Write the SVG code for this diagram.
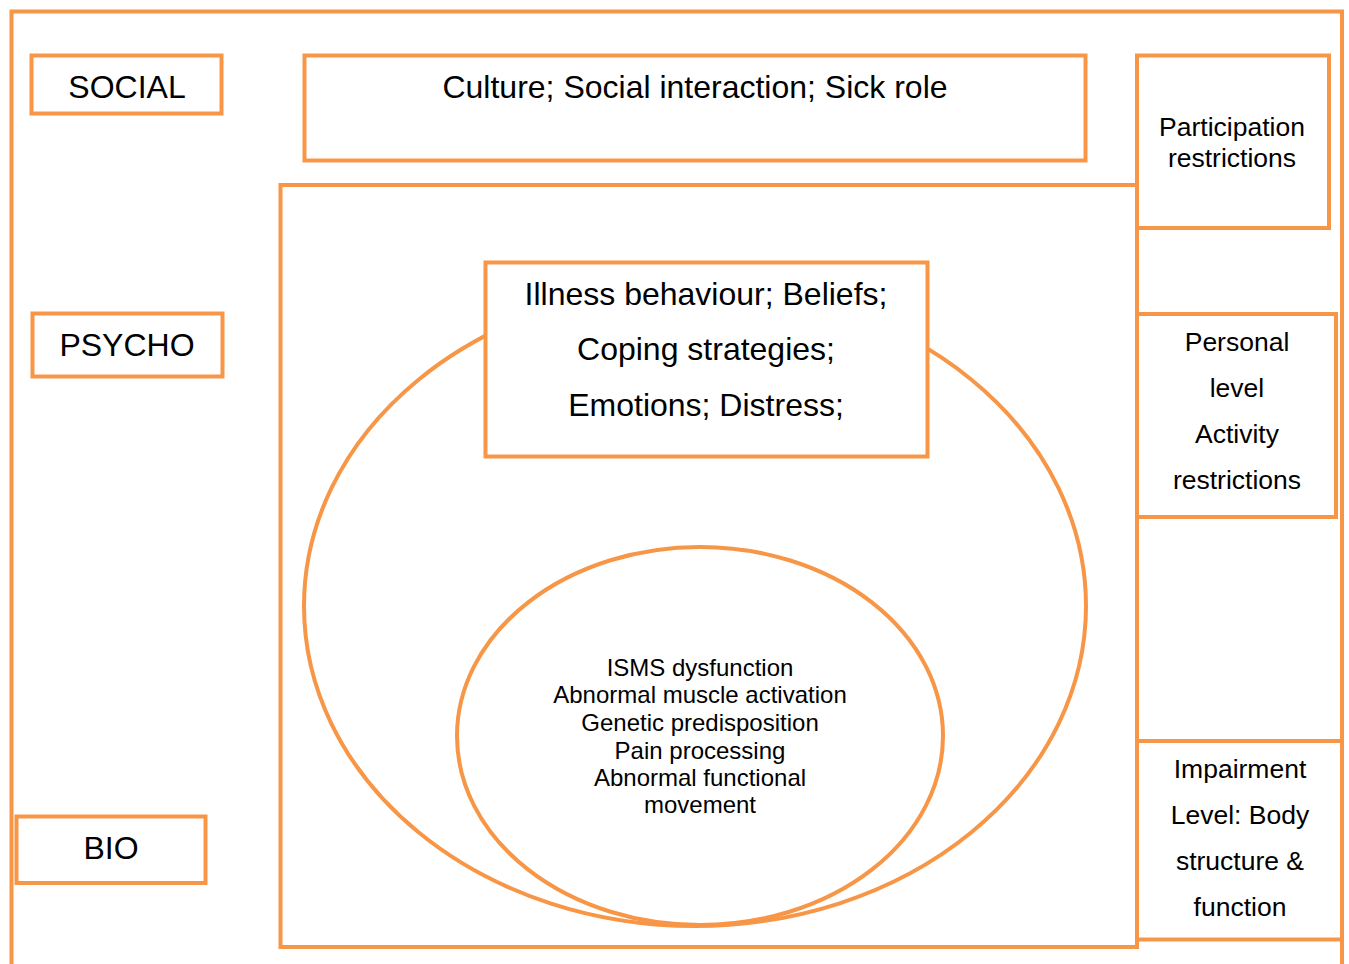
<svg xmlns="http://www.w3.org/2000/svg" width="1349" height="964" viewBox="0 0 1349 964">
<style>
.b{fill:#fff;stroke:#F79646;stroke-width:4}
.e{fill:none;stroke:#F79646;stroke-width:4}
.t{font-family:"Liberation Sans",Arial,sans-serif;fill:#000;text-anchor:middle}
</style>
<rect width="1349" height="964" fill="#fff"/>
<g id="frame"><path class="e" d="M11.5,970 V11.5 H1342 V970"/></g>
<g id="level-area"><rect class="b" x="280.5" y="185" width="856.5" height="762"/></g>
<g id="psycho-ellipse"><ellipse class="e" cx="695" cy="606" rx="391" ry="320"/></g>
<g id="bio-ellipse"><ellipse class="e" cx="700" cy="736" rx="243" ry="189"/>
<text class="t" font-size="24"><tspan x="700" y="676">ISMS dysfunction</tspan><tspan x="700" y="703">Abnormal muscle activation</tspan><tspan x="700" y="731">Genetic predisposition</tspan><tspan x="700" y="759">Pain processing</tspan><tspan x="700" y="786">Abnormal functional</tspan><tspan x="700" y="813">movement</tspan></text></g>
<g id="illness"><rect class="b" x="485.5" y="262.5" width="442" height="194"/>
<text class="t" font-size="32"><tspan x="706" y="305">Illness behaviour; Beliefs;</tspan><tspan x="706" y="360">Coping strategies;</tspan><tspan x="706" y="416">Emotions; Distress;</tspan></text></g>
<g id="social"><rect class="b" x="31.5" y="55.5" width="190" height="58"/><text class="t" x="127" y="98" font-size="32">SOCIAL</text></g>
<g id="psycho"><rect class="b" x="32.5" y="313.5" width="190" height="63"/><text class="t" x="127" y="356" font-size="32">PSYCHO</text></g>
<g id="bio"><rect class="b" x="16.5" y="816.5" width="189" height="66.5"/><text class="t" x="111" y="859" font-size="32">BIO</text></g>
<g id="culture"><rect class="b" x="304.5" y="55.5" width="781" height="105"/><text class="t" x="695" y="98" font-size="32">Culture; Social interaction; Sick role</text></g>
<g id="participation"><rect class="b" x="1137" y="55.5" width="192" height="172.5"/>
<text class="t" font-size="26.5"><tspan x="1232" y="136">Participation</tspan><tspan x="1232" y="167">restrictions</tspan></text></g>
<g id="personal"><rect class="b" x="1137" y="314" width="199" height="203"/>
<text class="t" font-size="26.5"><tspan x="1237" y="351">Personal</tspan><tspan x="1237" y="397">level</tspan><tspan x="1237" y="443">Activity</tspan><tspan x="1237" y="489">restrictions</tspan></text></g>
<g id="impairment"><rect class="b" x="1137" y="741" width="205" height="198.5"/>
<text class="t" font-size="26.5"><tspan x="1240" y="778">Impairment</tspan><tspan x="1240" y="824">Level: Body</tspan><tspan x="1240" y="870">structure &amp;</tspan><tspan x="1240" y="916">function</tspan></text></g>
<g id="connectors"></g>
</svg>
